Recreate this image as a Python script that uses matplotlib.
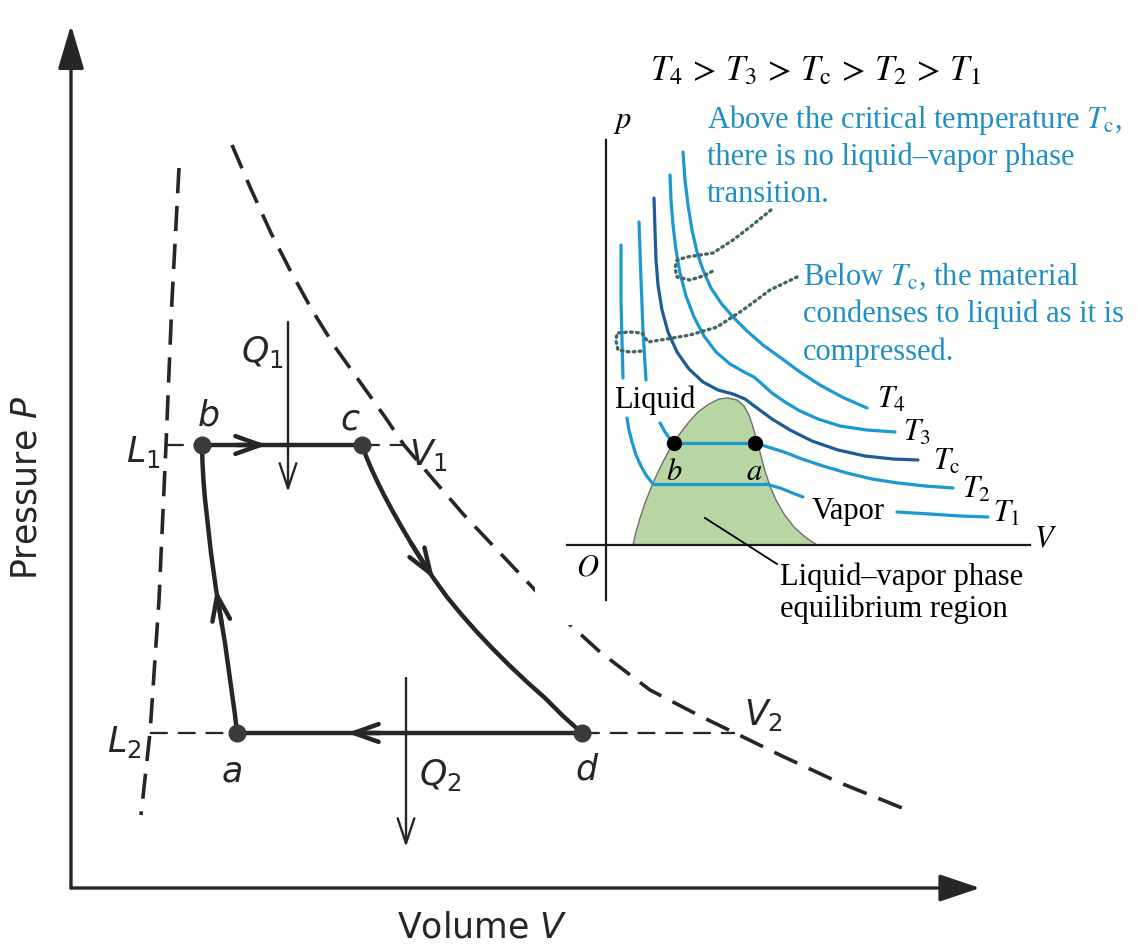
import matplotlib.pyplot as plt
from matplotlib.patches import Polygon, Rectangle

# ---- main P-V sketch ----------------------------------------------------
state_names = ['a', 'b', 'c', 'd']
state_x = [237, 202, 362, 582]
state_y = [733, 445, 445, 733]

# adiabat c -> d
cd_x = [362, 366, 371, 377, 384, 392, 401, 411, 422, 434, 447, 461, 476, 492,
        509, 527, 545, 563, 582]
cd_y = [445, 456, 468, 481, 495, 510, 526, 543, 561, 579, 597, 614, 631, 648,
        665, 682, 698, 716, 733]
# adiabat a -> b
ab_x = [237, 235, 232.5, 230, 227.5, 225, 222, 219, 216, 213.5, 211, 209, 207,
        205, 203.5, 202.5, 202]
ab_y = [733, 715, 697, 679, 661, 643, 625, 607, 589, 571, 553, 535, 517,
        499, 481, 463, 445]

# saturated liquid (L) and vapour (V) lines
liq_x = [179, 172, 166, 159, 150, 141]
liq_y = [168, 300, 445, 600, 733, 815]
vap_x = [232, 250, 271, 290, 312, 335, 360, 385, 404, 432, 464, 500, 535, 565,
         600, 650, 700, 735, 782, 838, 912]
vap_y = [145, 187, 233, 270, 310, 347, 382, 417, 445, 478, 515, 553, 590, 620,
         652, 690, 716, 733, 756, 782, 812]

L1_x, V1_x, L2_x, V2_x = 166, 404, 150, 735

# ---- inset: isotherms of a real substance --------------------------------
dome_x = [633, 636, 640, 645, 651, 657, 664, 671, 679, 688, 698, 709, 719, 728,
          737, 744, 749, 753, 757, 761, 765, 770, 776, 784, 794, 805, 817]
dome_y = [545, 532, 518, 503, 488, 474, 460, 447, 435, 423, 412, 404, 399, 398,
          400, 406, 415, 427, 441, 456, 471, 486, 500, 514, 527, 537, 545]

T4_x = [683, 685, 688, 692, 697, 703, 711, 721, 733, 747, 763, 781, 800, 820, 842, 867]
T4_y = [152, 180, 205, 230, 252, 270, 288, 303, 317, 331, 345, 358, 372, 385, 397, 408]
T3_x = [670, 671, 673, 676, 680, 686, 694, 704, 716, 730, 744, 754, 762, 772,
        785, 800, 818, 840, 867, 895]
T3_y = [175, 200, 225, 250, 273, 296, 317, 336, 352, 364, 372, 377, 384, 393,
        402, 411, 419, 426, 430, 432]
Tc_x = [654, 655, 656, 658, 662, 668, 677, 689, 703, 718, 733, 745, 757, 772,
        790, 812, 838, 865, 893, 918]
Tc_y = [198, 230, 260, 285, 310, 332, 352, 369, 382, 390, 394, 399, 408, 419,
        430, 441, 450, 456, 459, 460]

T2_liq_x, T2_liq_y = [639, 641, 643, 646], [222, 280, 330, 380]
T2_low_x, T2_low_y = [660, 665, 670, 674], [423, 432, 439, 443]
T2_tie_x, T2_tie_y = [674, 755], [443, 443]
T2_vap_x = [755, 768, 784, 802, 823, 847, 872, 898, 925, 953]
T2_vap_y = [443, 447, 452, 459, 466, 473, 479, 483, 486, 488]

T1_liq_x, T1_liq_y = [621, 621, 622, 623], [245, 300, 340, 378]
T1_low_x = [627, 629, 632, 636, 641, 646, 653]
T1_low_y = [418, 430, 442, 455, 466, 475, 484]
T1_tie_x, T1_tie_y = [653, 766], [484, 484]
T1_vap_x, T1_vap_y = [766, 780, 795, 803], [484, 488, 494, 497]
T1_far_x, T1_far_y = [897, 930, 960, 988], [512, 514, 516, 517]

# dotted callouts from the two notes
note1_x = [771, 750, 733, 713, 700, 687, 677, 675, 677, 690, 703, 713]
note1_y = [210, 227, 240, 253, 255, 257, 260, 268, 277, 280, 276, 271]
note2_x = [797, 770, 743, 717, 690, 667, 648, 642, 630, 617, 616, 618, 630, 643]
note2_y = [277, 290, 310, 327, 335, 339, 342, 333, 332, 333, 341, 350, 352, 351]

ink = '#262626'
cyan = '#1c98d2'
navy = '#1f5c97'
note_blue = '#1f8fc4'
paper = '#fefefc'

fig = plt.figure(figsize=(11.38, 9.5), dpi=100, facecolor=paper)
ax = fig.add_axes([0, 0, 1, 1])
ax.set_xlim(0, 1138)
ax.set_ylim(950, 0)
ax.axis('off')

def arrow(tail, tip, style, lw, color=ink, z=3):
    ax.annotate('', xy=tip, xytext=tail, zorder=z,
                arrowprops=dict(arrowstyle=style, lw=lw, color=color,
                                shrinkA=0, shrinkB=0, mutation_scale=20))

sans = dict(color=ink, fontsize=25, family='DejaVu Sans',
            math_fontfamily='dejavusans', zorder=3)

# axes
arrow((71, 888), (71, 25), '-|>,head_length=1.35,head_width=0.4', 2.4)
arrow((71, 888), (980, 888), '-|>,head_length=1.25,head_width=0.42', 2.4)
ax.text(27, 488, r'Pressure $P$', rotation=90, ha='center', va='center', **sans)
ax.text(397, 937, r'Volume $V$', ha='left', va='baseline', **sans)

# L and V boundaries
ax.plot(liq_x, liq_y, color=ink, lw=2.6, dashes=(7, 3.5), zorder=2)
ax.plot(vap_x, vap_y, color=ink, lw=2.6, dashes=(7, 3.5), zorder=2)
thin_dash = dict(color=ink, lw=1.6, dashes=(8, 4.5), zorder=2)
ax.plot([L1_x, state_x[1]], [state_y[1]] * 2, **thin_dash)
ax.plot([state_x[2], V1_x], [state_y[2]] * 2, **thin_dash)
ax.plot([L2_x, state_x[0]], [state_y[0]] * 2, **thin_dash)
ax.plot([state_x[3], V2_x], [state_y[3]] * 2, **thin_dash)

# the cycle
ax.plot([state_x[1], state_x[2]], [state_y[1], state_y[2]], color=ink, lw=3.2, zorder=2)
ax.plot([state_x[0], state_x[3]], [state_y[0], state_y[3]], color=ink, lw=3.2, zorder=2)
ax.plot(cd_x, cd_y, color=ink, lw=3.2, zorder=2, solid_capstyle='round',
        solid_joinstyle='round')
ax.plot(ab_x, ab_y, color=ink, lw=3.2, zorder=2, solid_capstyle='round',
        solid_joinstyle='round')
ax.plot(state_x, state_y, 'o', ms=12, color='#3a3a3a', zorder=3)

mid = '->,head_length=0.9,head_width=0.32'
arrow((237, 445), (267, 445), mid, 3.2)
arrow((380, 733), (347, 733), mid, 3.2)
arrow((cd_x[7], cd_y[7]), (cd_x[9], cd_y[9]), mid, 3.2)
arrow((ab_x[6], ab_y[6]), (ab_x[8], ab_y[8]), mid, 3.2)

# heat flows
arrow((288, 322), (288, 492), '->,head_length=0.9,head_width=0.3', 1.7)
arrow((406, 678), (406, 847), '->,head_length=0.9,head_width=0.3', 1.7)
ax.text(262, 352, r'$Q_1$', ha='center', va='center', **sans)
ax.text(440, 775, r'$Q_2$', ha='center', va='center', **sans)

label_pos = {'a': (232, 772), 'b': (208, 416), 'c': (350, 420), 'd': (587, 770)}
for name in state_names:
    ax.text(*label_pos[name], '$' + name + '$', ha='center', va='center', **sans)
ax.text(143, 452, r'$L_1$', ha='center', va='center', **sans)
ax.text(428, 455, r'$V_1$', ha='center', va='center', **sans)
ax.text(124, 742, r'$L_2$', ha='center', va='center', **sans)
ax.text(763, 715, r'$V_2$', ha='center', va='center', **sans)

# ---- inset ---------------------------------------------------------------
ax.add_patch(Rectangle((535, 30), 603, 595, facecolor=paper, edgecolor='none', zorder=4))
serif = dict(family='Liberation Serif', math_fontfamily='stix', fontsize=22, zorder=8)

ax.add_patch(Polygon(list(zip(dome_x, dome_y)), closed=True, facecolor='#b7d6a3',
                     edgecolor='#707070', lw=1.0, zorder=5))
ax.plot([606, 606], [140, 600], color='#1a1a1a', lw=1.6, zorder=6)
ax.plot([567, 1030], [545, 545], color='#1a1a1a', lw=1.6, zorder=6)

iso = dict(color=cyan, lw=2.3, zorder=6, solid_capstyle='round', solid_joinstyle='round')
ax.plot(T4_x, T4_y, **iso)
ax.plot(T3_x, T3_y, **iso)
ax.plot(Tc_x, Tc_y, **{**iso, 'color': navy})
for xs, ys in [(T2_liq_x, T2_liq_y), (T2_low_x, T2_low_y), (T2_tie_x, T2_tie_y),
               (T2_vap_x, T2_vap_y), (T1_liq_x, T1_liq_y), (T1_low_x, T1_low_y),
               (T1_tie_x, T1_tie_y), (T1_vap_x, T1_vap_y), (T1_far_x, T1_far_y)]:
    ax.plot(xs, ys, **iso)
ax.plot(T2_tie_x, T2_tie_y, 'o', ms=10, color='black', zorder=7)

ax.plot(note1_x, note1_y, color='#3f6862', lw=2.4, ls=(0, (0.5, 1.3)),
        dash_capstyle='round', zorder=7)
ax.plot(note2_x, note2_y, color='#3f6862', lw=2.4, ls=(0, (0.5, 1.3)),
        dash_capstyle='round', zorder=7)

ax.text(815, 80, r'$T_4\,>\,T_3\,>\,T_\mathrm{c}\,>\,T_2\,>\,T_1$', ha='center',
        va='baseline', color='black', **{**serif, 'fontsize': 25})
ax.text(622, 128, r'$p$', ha='center', va='baseline', color='black', **serif)
ax.text(588, 576, r'$O$', ha='center', va='baseline', color='black', **serif)
ax.text(1045, 547, r'$V$', ha='center', va='baseline', color='black', **serif)

iso_labels = [(r'$T_4$', 877, 408), (r'$T_3$', 903, 441), (r'$T_\mathrm{c}$', 933, 470),
              (r'$T_2$', 962, 498), (r'$T_1$', 993, 522)]
for s, x, y in iso_labels:
    ax.text(x, y, s, ha='left', va='baseline', color='black', **serif)
ax.text(674, 480, r'$b$', ha='center', va='baseline', color='black', **serif)
ax.text(754, 480, r'$a$', ha='center', va='baseline', color='black', **serif)

ax.text(614, 408, 'Liquid', ha='left', va='baseline', color='black', **serif)
ax.text(812, 519, 'Vapor', ha='left', va='baseline', color='black', **serif)
ax.plot([705, 777], [518, 564], color='black', lw=1.3, zorder=7)
ax.text(780, 585, 'Liquid\u2013vapor phase', ha='left', va='baseline', color='black', **serif)
ax.text(780, 617, 'equilibrium region', ha='left', va='baseline', color='black', **serif)

notes = [(707, 128, r'Above the critical temperature $T_\mathrm{c}$,'),
         (707, 165, 'there is no liquid\u2013vapor phase'),
         (707, 202, 'transition.'),
         (803, 285, r'Below $T_\mathrm{c}$, the material'),
         (803, 322, 'condenses to liquid as it is'),
         (803, 360, 'compressed.')]
for x, y, s in notes:
    ax.text(x, y, s, ha='left', va='baseline', color=note_blue, **serif)

fig.savefig('out.png', dpi=100, facecolor=fig.get_facecolor())
